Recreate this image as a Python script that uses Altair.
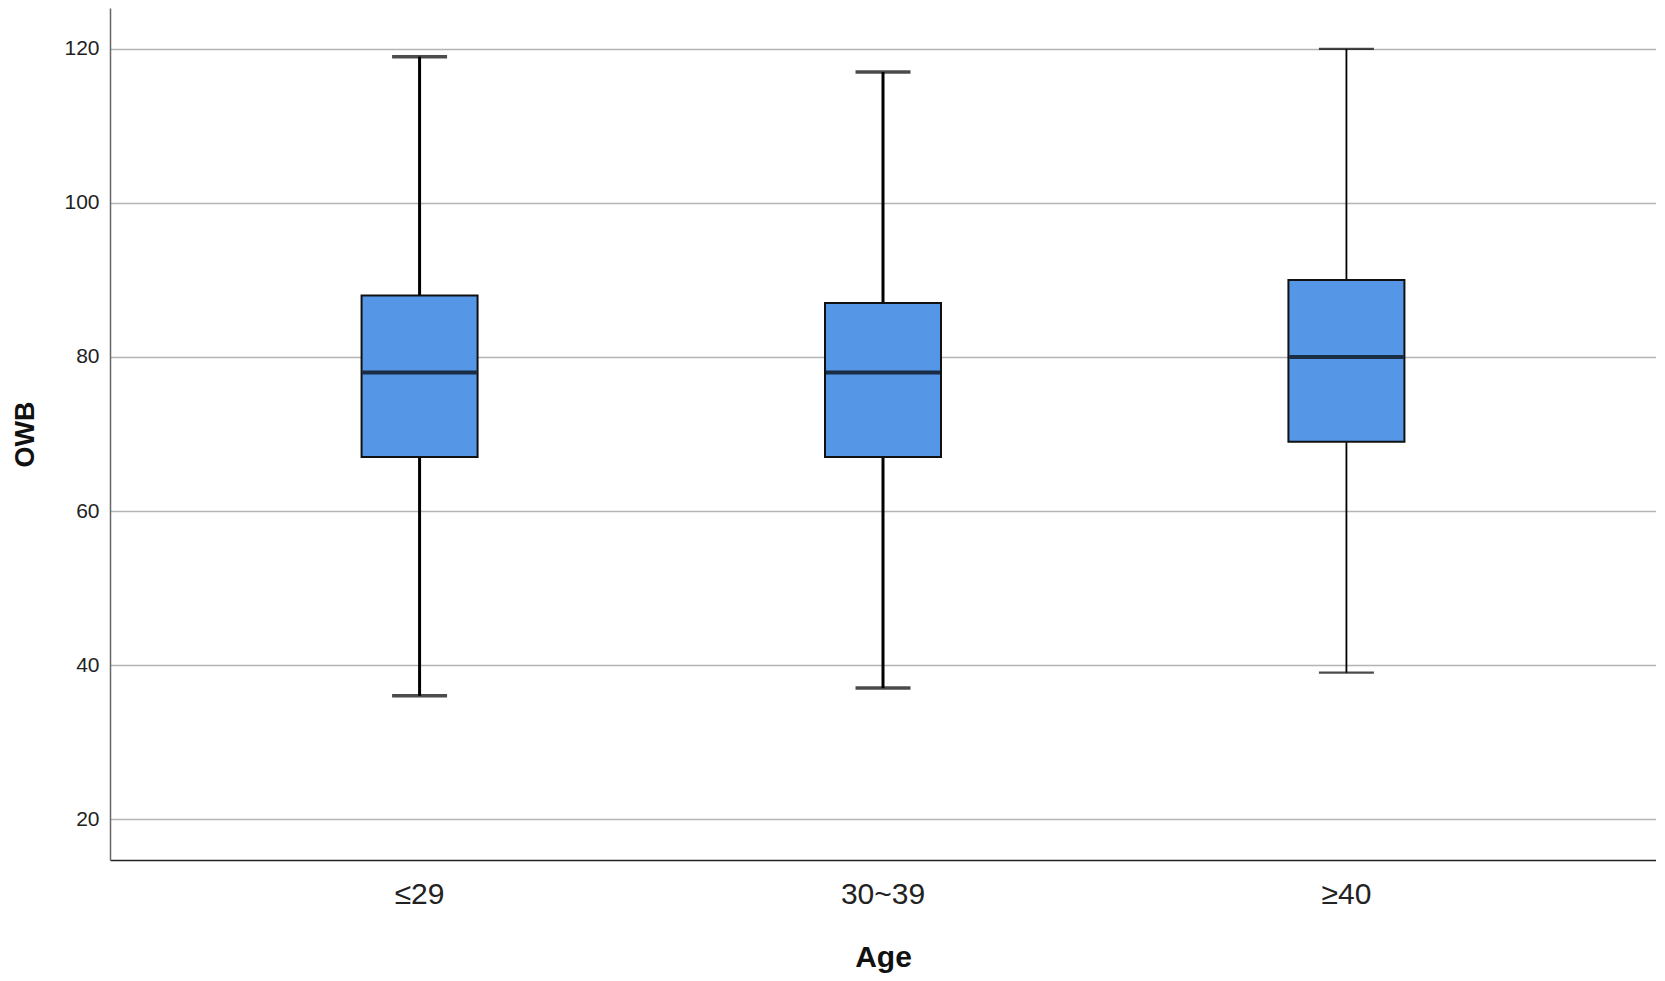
import altair as alt
import pandas as pd

ages = ["≤29", "30~39", "≥40"]
whisker_low = [36, 37, 39]
q1 = [67, 67, 69]
median = [78, 78, 80]
q3 = [88, 87, 90]
whisker_high = [119, 117, 120]

df = pd.DataFrame({
    "age": ages, "lo": whisker_low, "q1": q1, "med": median, "q3": q3, "hi": whisker_high
})

FONT = "Liberation Sans"
x = alt.X("age:N", sort=ages, title="Age",
          scale=alt.Scale(paddingInner=0, paddingOuter=0.168),
          axis=alt.Axis(labelAngle=0, labelFontSize=30, labelFont=FONT, labelColor="#222",
                        labelPadding=19, ticks=False, domainColor="#222", domainWidth=1.5,
                        titleFontSize=30, titleFont=FONT, titleFontWeight="bold",
                        titleColor="#111", titleY=106, titleBaseline="alphabetic"))
yscale = alt.Scale(domain=[14.68, 125.32], nice=False, zero=False)
y_axis = alt.Axis(values=[20, 40, 60, 80, 100, 120], labelFontSize=21, labelFont=FONT,
                  labelColor="#222", labelPadding=11, ticks=False, domainColor="#666",
                  domainWidth=1.5, grid=True, gridColor="#b4b4b4", gridWidth=1.5,
                  titleFontSize=27, titleFont=FONT, titleFontWeight="bold", titleColor="#111",
                  titleX=-77, titleBaseline="alphabetic")

base = alt.Chart(df).encode(x=x)
thin = alt.datum.age == "≥40"
sw = alt.condition(thin, alt.value(1.8), alt.value(3))

upper = base.mark_rule(color="black").encode(
    y=alt.Y("q3:Q", scale=yscale, axis=y_axis, title="OWB"), y2="hi:Q", strokeWidth=sw)
lower = base.mark_rule(color="black").encode(y=alt.Y("lo:Q", scale=yscale), y2="q1:Q", strokeWidth=sw)

def caps(thick, flt):
    b = base.transform_filter(flt)
    hi = b.mark_tick(color="black", size=55, thickness=thick).encode(y=alt.Y("hi:Q", scale=yscale))
    lo = b.mark_tick(color="black", size=55, thickness=thick).encode(y=alt.Y("lo:Q", scale=yscale))
    return [hi, lo]

cap_layers = caps(3.5, alt.datum.age != "≥40") + caps(2.2, alt.datum.age == "≥40")
box = base.mark_bar(size=116, color="#5596e6", stroke="#111", strokeWidth=2).encode(
    y=alt.Y("q1:Q", scale=yscale), y2="q3:Q")
med = base.mark_tick(color="black", size=114, thickness=4).encode(y=alt.Y("med:Q", scale=yscale))

chart = alt.layer(upper, lower, *cap_layers, box, med).properties(
    width=1546, height=852, autosize="none", background="white",
    padding={"left": 102, "top": 0, "right": 0, "bottom": 113},
).configure_view(stroke=None)

chart.save("out.html", embed_options={"renderer": "svg", "actions": False})
